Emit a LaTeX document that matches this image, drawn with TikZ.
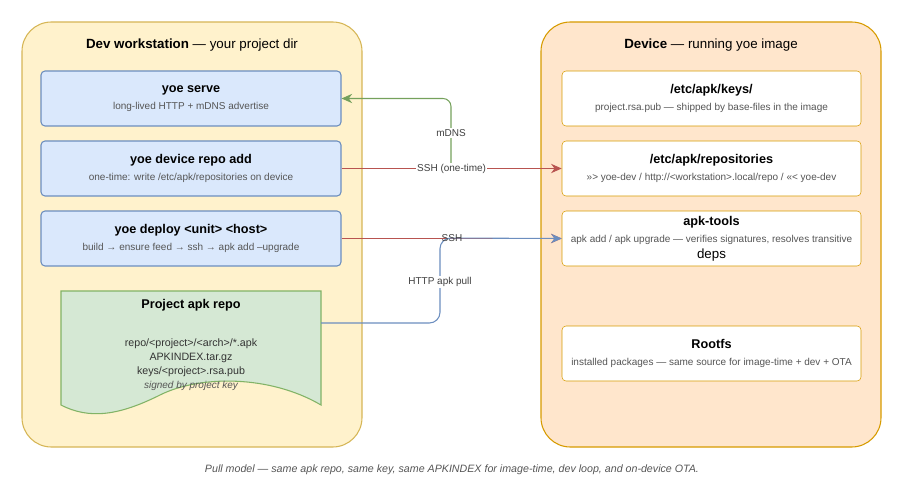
\documentclass[tikz,border=0pt]{standalone}
\usepackage{fontspec}
\setmainfont{Liberation Sans}
\usetikzlibrary{positioning,arrows.meta}
\definecolor{wsfill}{HTML}{FFF2CC}\definecolor{wsline}{HTML}{D6B656}
\definecolor{devfill}{HTML}{FFE6CC}\definecolor{devline}{HTML}{D79B00}
\definecolor{cmdfill}{HTML}{DAE8FC}\definecolor{cmdline}{HTML}{6C8EBF}
\definecolor{repofill}{HTML}{D5E8D4}\definecolor{repoline}{HTML}{82B366}
\definecolor{sshred}{HTML}{B85450}\definecolor{subgray}{HTML}{555555}
\tikzset{
	panel/.style = {draw, thick, rounded corners=22, minimum width=340*0.75pt, minimum height=425*0.75pt},
	cmd/.style = {draw=cmdline, thick, fill=cmdfill, rounded corners=3, minimum width=300*0.75pt,
		minimum height=55*0.75pt, align=center},
	part/.style = {draw=devline, fill=white, rounded corners=3, minimum width=299*0.75pt,
		minimum height=55*0.75pt, align=center},
	link/.style = {thick, -{Stealth[length=8pt,width=7pt]}},
	tag/.style = {fill=white, font=\fontsize{7.5}{9}\selectfont, text=black!75, inner sep=1pt}
}
\newcommand{\boxtext}[2]{{\fontsize{9.5}{11}\selectfont\bfseries #1}\\[1pt]\fontsize{7.5}{9}\selectfont\color{subgray}#2}

\begin{document}
\begin{tikzpicture}[x=0.75pt, y=-0.75pt]
\useasboundingbox (0,0) rectangle (904,503);
% panels
\node[panel, draw=wsline, fill=wsfill] (ws) at (192,234.5) {};
\node[panel, draw=devline, fill=devfill] (dev) at (711,234.5) {};
\node[font=\fontsize{10}{12}\selectfont] at (192,45) {\textbf{Dev workstation} — your project dir};
\node[font=\fontsize{10}{12}\selectfont] at (711,45) {\textbf{Device} — running yoe image};

% workstation commands
\node[cmd] (serve) at (191,98.5) {\boxtext{yoe serve}{long-lived HTTP + mDNS advertise}};
\node[cmd] (repoadd) at (191,168.5) {\boxtext{yoe device repo add}{one-time: write /etc/apk/repositories on device}};
\node[cmd] (deploy) at (191,238.5) {\boxtext{yoe deploy <unit> <host>}{build → ensure feed → ssh → apk add --upgrade}};

% project repo (document shape)
\draw[thick, draw=repoline, fill=repofill] (61,291) -- (321,291) -- (321,405)
	.. controls (270,375) and (200,375) .. (160,395)
	.. controls (120,415) and (90,420) .. (61,405) -- cycle;
\node[font=\fontsize{9.5}{11}\selectfont\bfseries] (repo) at (191,305) {Project apk repo};
\node[align=center, font=\fontsize{8}{10.5}\selectfont, text=black!80, below=14pt of repo] (repolist)
	{repo/<project>/<arch>/*.apk\\APKINDEX.tar.gz\\keys/<project>.rsa.pub\\\fontsize{7.5}{9}\selectfont\itshape\color{subgray}signed by project key};
\coordinate (repoout) at (321,323);

% device parts
\node[part] (keys) at (711.5,98.5) {\boxtext{/etc/apk/keys/}{project.rsa.pub — shipped by base-files in the image}};
\node[part] (repos) at (711.5,168.5) {\boxtext{/etc/apk/repositories}{>>> yoe-dev / http://<workstation>.local/repo / <<< yoe-dev}};
\node[part] (apk) at (711.5,238.5) {\boxtext{apk-tools}{apk add / apk upgrade — verifies signatures, resolves transitive\\deps}};
\node[part] (rootfs) at (711.5,353.5) {\boxtext{Rootfs}{installed packages — same source for image-time + dev + OTA}};

% connectors
\coordinate (mdnsfoot) at (451,164);
\draw[link, draw=repoline!90!black, rounded corners=6] (mdnsfoot) |- (serve.east);
\node[tag] at (451,133) {mDNS};
\draw[link, draw=sshred] (repoadd.east) -- node[tag]{SSH (one-time)} (repos.west);
\draw[link, draw=sshred] (deploy.east) -- (apk.west);
\draw[link, draw=cmdline, rounded corners=8] (repoout) -| (440,238) -- (apk.west);
\node[tag, fill=none] at (452,238) {SSH};
\node[tag] at (440,282) {HTTP apk pull};

\node[font=\fontsize{8}{10}\selectfont\itshape, text=subgray] (caption) at (452,470)
	{Pull model — same apk repo, same key, same APKINDEX for image-time, dev loop, and on-device OTA.};
\end{tikzpicture}
\end{document}
